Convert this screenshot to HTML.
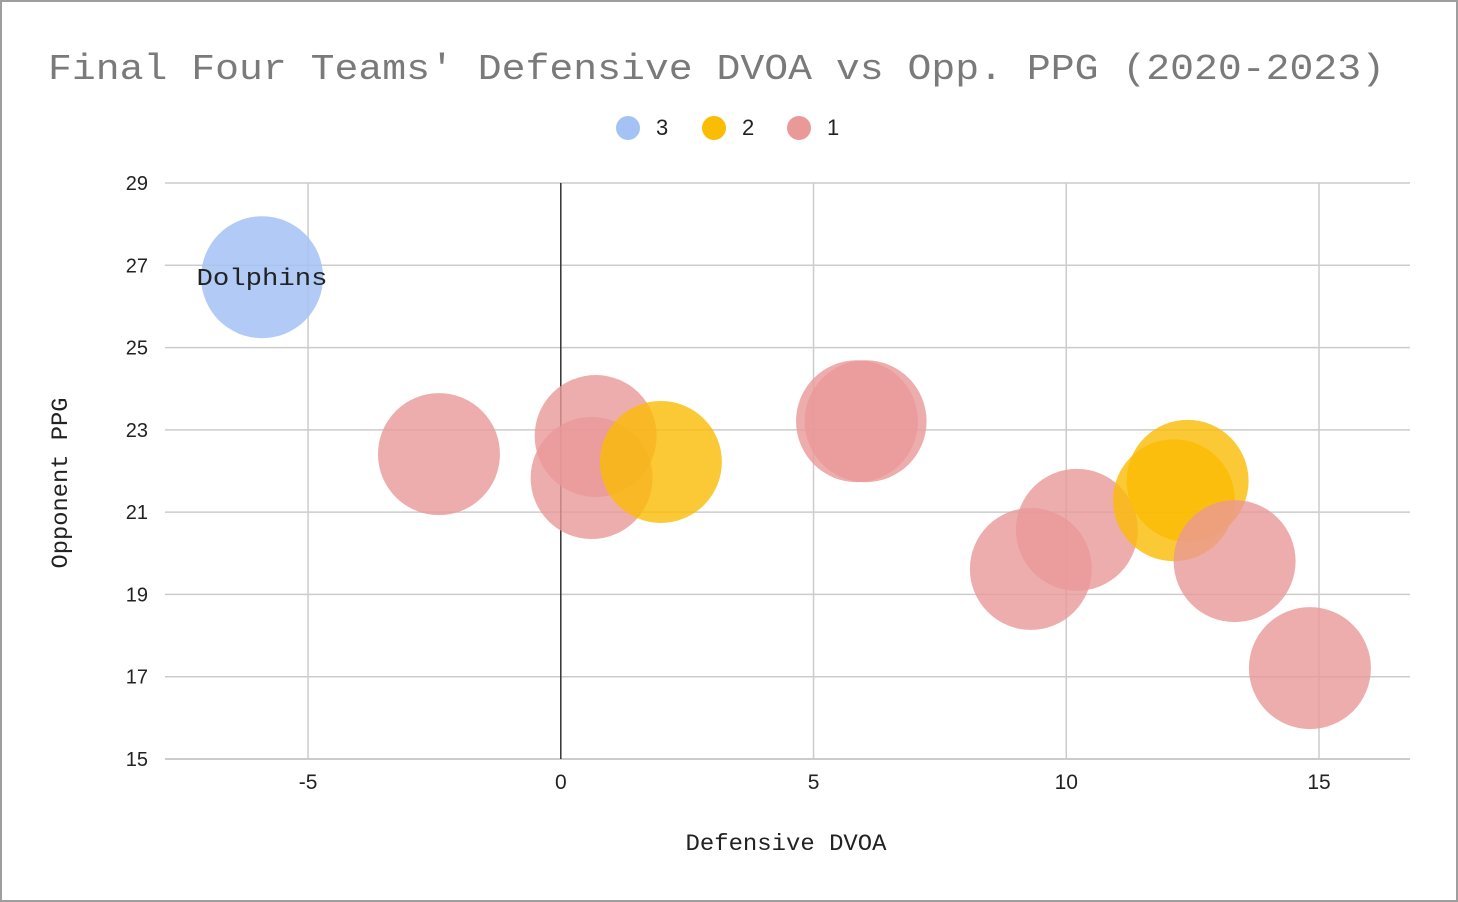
<!DOCTYPE html>
<html><head><meta charset="utf-8"><style>
html,body{margin:0;padding:0;background:#fff}
svg{display:block}
</style></head><body>
<svg id="chart" width="1458" height="902" xmlns="http://www.w3.org/2000/svg">
<rect x="1" y="1" width="1456" height="900" fill="#fff" stroke="#9e9e9e" stroke-width="2"/>
<text x="48" y="79" font-family="Liberation Mono, monospace" font-size="36" fill="#7a7a7a" textLength="1337" lengthAdjust="spacingAndGlyphs">Final Four Teams' Defensive DVOA vs Opp. PPG (2020-2023)</text>
<g id="legend"></g>
<g id="grid"></g>
<g id="bubbles"></g>
<g id="labels"></g>
<text x="786" y="850" text-anchor="middle" font-family="Liberation Mono, monospace" font-size="23" fill="#222" textLength="201" lengthAdjust="spacingAndGlyphs">Defensive DVOA</text>
<text transform="translate(67,483) rotate(-90)" text-anchor="middle" font-family="Liberation Mono, monospace" font-size="23" fill="#222" textLength="171" lengthAdjust="spacingAndGlyphs">Opponent PPG</text>
</svg>
<script>
const teamLabels = ["Dolphins","","","","","","","","","","","",""];
const xValues = [-5.91,-2.41,0.69,0.61,1.98,5.86,6.03,9.30,10.21,12.40,12.13,13.33,14.82];
const yValues = [26.71,22.41,22.85,21.83,22.22,23.21,23.21,19.62,20.57,21.76,21.29,19.81,17.21];
const groups = [3,1,1,1,2,1,1,1,1,2,2,1,1];
const legendGroups = [3,2,1];
const xTicks = [-5,0,5,10,15];
const yTicks = [15,17,19,21,23,25,27,29];

const NS="http://www.w3.org/2000/svg";
const X0=165,X1=1410,Y0=183,Y1=759;
const xMin=-7.83,xMax=16.8,yMin=15,yMax=29;
const sx=v=>X0+(v-xMin)/(xMax-xMin)*(X1-X0);
const sy=v=>Y1-(v-yMin)/(yMax-yMin)*(Y1-Y0);
const colors={3:"#a4c2f4",2:"#fbbc04",1:"#ea9999"};
const opac={3:0.85,2:0.8,1:0.8};
function mk(t,a,p){const e=document.createElementNS(NS,t);for(const k in a)e.setAttribute(k,a[k]);p.appendChild(e);return e;}
const grid=document.getElementById('grid');
yTicks.forEach(t=>{
  const l=mk('line',{x1:X0,x2:X1,y1:sy(t),y2:sy(t),stroke:t===yMin?'#bbb':'#cccccc','stroke-width':1.5},grid);
  
  
  const tx=mk('text',{x:148,y:sy(t)+7,'text-anchor':'end','font-family':'Liberation Sans, sans-serif','font-size':20,fill:'#222'},grid);
  tx.textContent=t;
  
  
});
xTicks.forEach(t=>{
  const l=mk('line',{x1:sx(t),x2:sx(t),y1:Y0,y2:Y1,stroke:t===0?'#333':'#cccccc','stroke-width':1.5},grid);
  
  
  const tx=mk('text',{x:sx(t),y:789,'text-anchor':'middle','font-family':'Liberation Sans, sans-serif','font-size':21,fill:'#222'},grid);
  tx.textContent=t;
  
  
});
const bub=document.getElementById('bubbles'),lab=document.getElementById('labels');
xValues.forEach((v,i)=>{
  const g=groups[i];
  const c=mk('circle',{cx:sx(v),cy:sy(yValues[i]),r:61,fill:colors[g],'fill-opacity':opac[g]},bub);
  
  
  if(teamLabels[i]){
    const t=mk('text',{x:sx(v),y:sy(yValues[i])+8,'text-anchor':'middle','font-family':'Liberation Mono, monospace','font-size':24,fill:'#222',textLength:131,lengthAdjust:'spacingAndGlyphs'},lab);
    t.textContent=teamLabels[i];
    
    
  }
});
const leg=document.getElementById('legend');
const lx=[628,714,799];
legendGroups.forEach((g,i)=>{
  const c=mk('circle',{cx:lx[i],cy:128,r:12,fill:colors[g]},leg);
  
  
  const t=mk('text',{x:lx[i]+28,y:135,'font-family':'Liberation Sans, sans-serif','font-size':22,fill:'#222'},leg);
  t.textContent=g;
  
  
});
</script>
</body></html>
